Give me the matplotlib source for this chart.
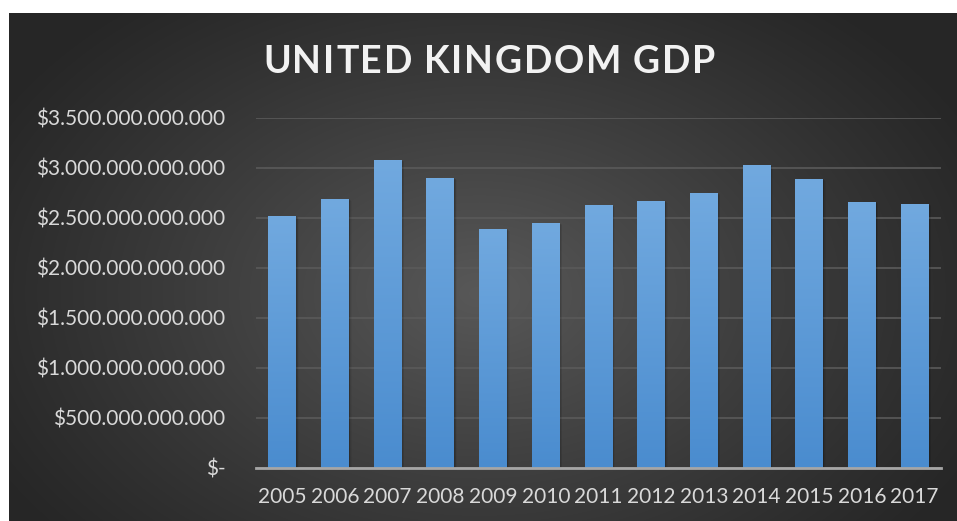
import numpy as np
import matplotlib.pyplot as plt
from matplotlib.ticker import FuncFormatter, MultipleLocator
from matplotlib.colors import LinearSegmentedColormap

plt.rcParams['font.family'] = ['Lato', 'DejaVu Sans']

years = ['2005', '2006', '2007', '2008', '2009', '2010', '2011',
         '2012', '2013', '2014', '2015', '2016', '2017']
gdp = [2.52e12, 2.69e12, 3.08e12, 2.90e12, 2.39e12, 2.45e12, 2.63e12,
       2.67e12, 2.75e12, 3.03e12, 2.89e12, 2.66e12, 2.64e12]
title = 'UNITED KINGDOM GDP'

W, H = 957, 521
fig = plt.figure(figsize=(W / 100, H / 100), dpi=100, facecolor='white')

# dark panel with a soft radial highlight
bg = fig.add_axes([9 / W, 0, (W - 9) / W, (H - 13) / H])
bg.set_axis_off()
yy, xx = np.mgrid[0:508, 0:948]
r = np.sqrt(((xx - 470) / 560) ** 2 + ((yy - 280) / 380) ** 2)
shade = np.clip(1 - r, 0, 1)
level = 38 + (88 - 38) * shade ** 1.1
img = np.dstack([level, level, level]) / 255
bg.imshow(img, aspect='auto', extent=[0, 1, 0, 1], interpolation='bilinear')
bg.set_xlim(0, 1)
bg.set_ylim(0, 1)

ax = fig.add_axes([256 / W, (H - 468) / H, 685 / W, 350 / H])
ax.set_facecolor('none')

bar_cmap = LinearSegmentedColormap.from_list('bar', ['#4a8ccf', '#71a9df'])
x = np.arange(len(years))
width = 0.53
bars = ax.bar(x, gdp, width=width, color='none', zorder=3)
for b in bars:
    x0, w, h = b.get_x(), b.get_width(), b.get_height()
    # soft shadow on the right side
    for k, a in enumerate([0.10, 0.08, 0.06, 0.04]):
        off = 0.012 * (k + 1)
        ax.bar(x0 + w / 2 + off, h - 0.004e12 * (k + 1), width=w, bottom=0,
               color='black', alpha=a, zorder=2, linewidth=0)
    grad = np.linspace(0, 1, 200).reshape(-1, 1)
    ax.imshow(grad, cmap=bar_cmap, aspect='auto', origin='lower',
              extent=[x0, x0 + w, 0, h], zorder=4)
ax.set_xlim(-0.5, len(years) - 0.5)
ax.set_ylim(0, 3.5e12)

ax.yaxis.set_major_locator(MultipleLocator(0.5e12))
ax.grid(axis='y', color='#5a5a5a', linewidth=1.2, zorder=1)
ax.set_axisbelow(True)
for s in ['top', 'right', 'left']:
    ax.spines[s].set_visible(False)
ax.spines['bottom'].set_color('#a6a6a6')
ax.spines['bottom'].set_linewidth(2)
ax.spines['bottom'].set_zorder(5)


def money(v, pos):
    if v == 0:
        return '\\$-'
    return '\\$' + f'{v:,.0f}'.replace(',', '.')


ax.yaxis.set_major_formatter(FuncFormatter(money))
ax.set_xticks(x)
ax.set_xticklabels(years)
ax.tick_params(axis='both', length=0, colors='#d9d9d9', labelsize=15)
ax.tick_params(axis='y', pad=22)
ax.tick_params(axis='x', pad=14)

# spaced-out title, one letter at a time
fig.canvas.draw()
renderer = fig.canvas.get_renderer()
size = 27
spacing = 1.8
space_w = 8
widths = []
for ch in title:
    if ch == ' ':
        widths.append(space_w)
        continue
    t = fig.text(0, 0, ch, fontsize=size, fontweight='bold')
    widths.append(t.get_window_extent(renderer).width)
    t.remove()
total = sum(widths) + spacing * (len(title) - 1)
cx = 489 - total / 2
for ch, w in zip(title, widths):
    if ch != ' ':
        fig.text(cx / W, 1 - 62 / H, ch, fontsize=size, fontweight='bold',
                 color='#f2f2f2', va='center', ha='left')
    cx += w + spacing

fig.savefig('out.png', dpi=100, facecolor='white')
